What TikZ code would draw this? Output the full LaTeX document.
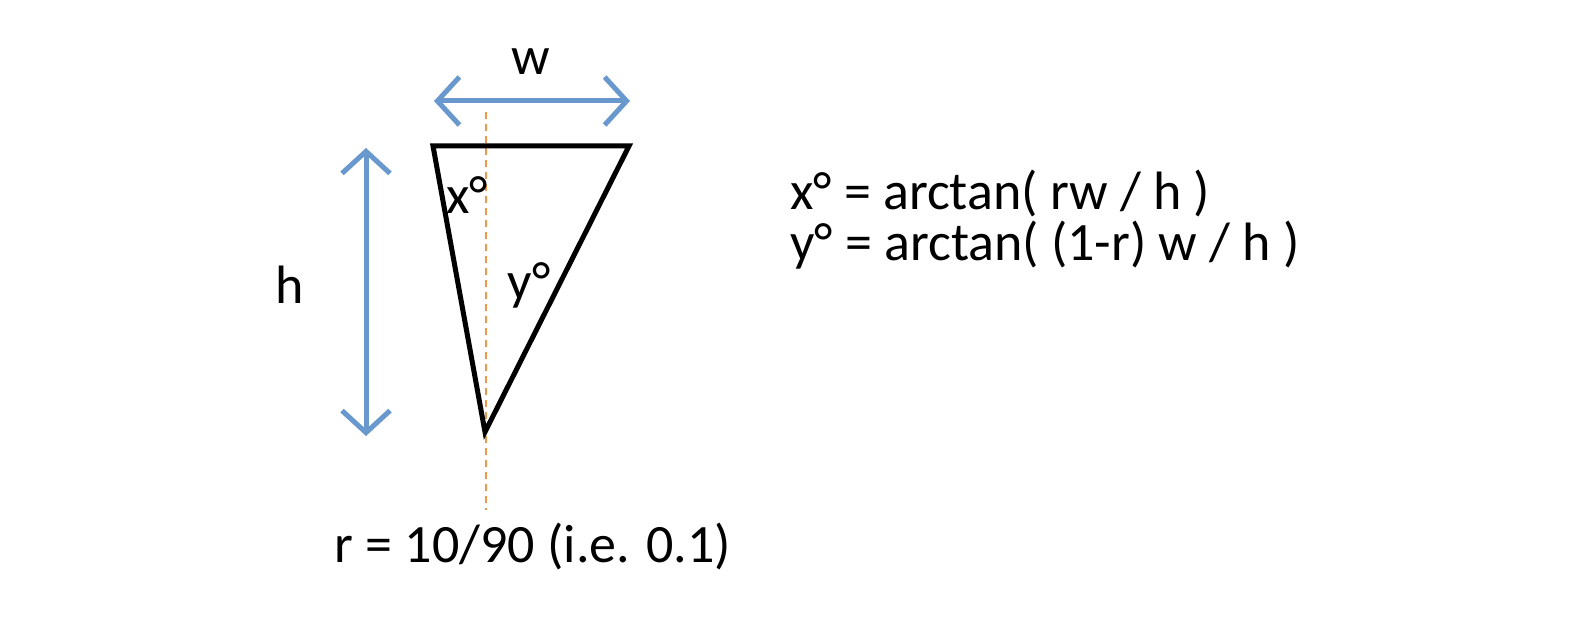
\documentclass[tikz,border=0pt]{standalone}
\usepackage{fontspec}
\setmainfont{Carlito}
\usetikzlibrary{arrows.meta}
\definecolor{dimblue}{RGB}{104,152,206}
\definecolor{guideorange}{RGB}{240,150,70}
\tikzset{
  dimarrow/.style={draw=dimblue, line width=5pt, {Straight Barb[length=22pt,width=48pt]}-{Straight Barb[length=22pt,width=48pt]}},
  guide/.style={draw=guideorange, line width=2pt, dash pattern=on 7pt off 5pt},
  tri/.style={draw=black, line width=5pt, line join=miter},
  lbl/.style={inner sep=0pt, font=\fontsize{54}{56}\selectfont},
}
\begin{document}
\begin{tikzpicture}[x=1pt,y=-1pt]
\useasboundingbox (0,0) rectangle (1594,620);
% guide line
\coordinate (gtop) at (486,112);
\coordinate (gbot) at (486,510);
\draw[guide] (gtop) -- (gbot);
% triangle
\coordinate (tl) at (433,146);
\coordinate (tr) at (629,146);
\coordinate (bt) at (485,432);
\draw[tri] (tl) -- (tr) -- (bt) -- cycle;
% dimension arrows
\coordinate (wl) at (434,101);
\coordinate (wr) at (630,101);
\draw[dimarrow] (wl) -- (wr);
\coordinate (ht) at (366,148);
\coordinate (hb) at (366,436);
\draw[dimarrow] (ht) -- (hb);
% labels
\node[lbl] (w) at (531,62) {w};
\node[lbl] (h) at (290,285) {h};
\node[lbl] (x) at (467,195) {x°};
\node[lbl] (y) at (529,285) {y°};
\node[lbl, anchor=base west] (f1) at (790,210) {x° = arctan( rw / h )};
\node[lbl, anchor=base west] (f2) at (790,261) {y° = arctan( (1-r) w / h )};
\node[lbl, anchor=base] (r) at (533,562) {r = 10/90 (i.e. 0.1)};
\end{tikzpicture}
\end{document}
